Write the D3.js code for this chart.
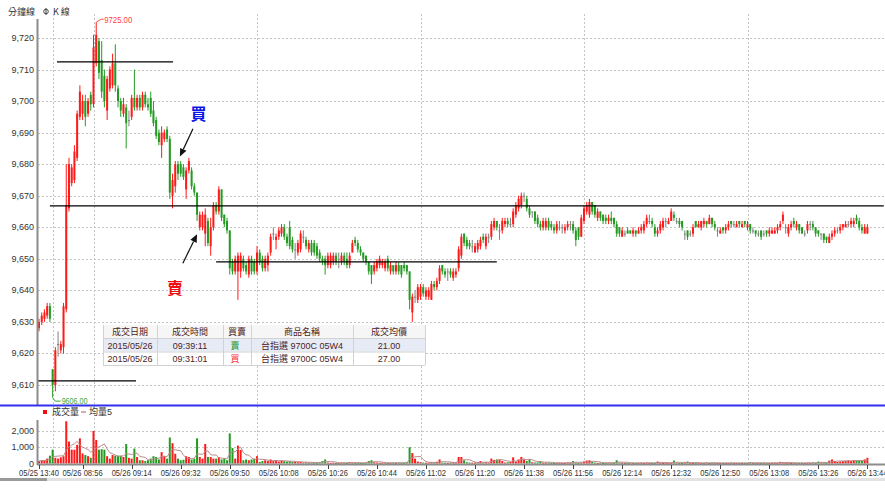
<!DOCTYPE html>
<html><head><meta charset="utf-8">
<script src="https://cdn.jsdelivr.net/npm/d3@7"></script>
<style>
body{margin:0;background:#fff;}
svg{display:block;font-family:"Liberation Sans","Noto Sans CJK TC",Arial,sans-serif;}
</style>
</head><body>
<svg id="chart" width="885" height="488"></svg>
<script>
// ---- DATA ----
// candles: [open, high, low, close], one per minute (05/25 13:40 .. 05/26 13:44)
const candles = [
[9628,9631,9627,9630],[9630,9633,9629,9632],[9631,9634,9630,9633],[9632,9636,9631,9635],[9635,9636,9630,9631],
[9615,9615,9606,9610],[9610,9622,9608,9621],[9623,9627,9619,9623],[9621,9624,9620,9623],[9622,9636,9620,9635],
[9634,9680,9633,9667],[9666,9682,9665,9680],[9674,9680,9673,9679],[9675,9686,9674,9684],[9682,9697,9681,9696],
[9695,9705,9694,9703],[9696,9702,9694,9700],[9700,9702,9692,9695],[9696,9701,9695,9700],[9702,9703,9697,9699],
[9699,9721,9698,9717],[9712,9725,9711,9721],[9719,9720,9707,9709],[9713,9719,9701,9703],[9708,9710,9698,9700],
[9697,9708,9694,9707],[9704,9711,9703,9710],[9705,9715,9704,9712],[9712,9718,9703,9705],[9704,9705,9698,9700],
[9700,9701,9695,9697],[9696,9701,9695,9699],[9698,9699,9685,9693],[9694,9697,9692,9694],[9695,9702,9694,9701],
[9701,9710,9697,9698],[9698,9702,9697,9701],[9701,9702,9697,9698],[9698,9703,9697,9702],[9702,9703,9698,9699],
[9699,9701,9697,9698],[9701,9703,9695,9696],[9697,9700,9692,9693],[9694,9695,9688,9689],[9690,9691,9686,9687],
[9686,9692,9682,9690],[9688,9691,9687,9690],[9691,9692,9687,9688],[9688,9689,9669,9671],[9670,9677,9666,9675],
[9673,9681,9671,9680],[9680,9681,9675,9677],[9680,9681,9676,9677],[9679,9680,9675,9676],[9672,9679,9669,9678],
[9678,9682,9677,9681],[9678,9679,9672,9673],[9673,9674,9670,9671],[9671,9671,9662,9664],[9660,9665,9659,9664],
[9660,9665,9659,9664],[9658,9666,9654,9664],[9662,9663,9654,9655],[9654,9663,9651,9660],[9660,9668,9659,9667],
[9667,9668,9664,9665],[9665,9673,9664,9672],[9672,9672,9662,9663],[9664,9664,9660,9661],[9662,9663,9658,9659],
[9659,9659,9645,9647],[9649,9650,9645,9646],[9646,9651,9645,9650],[9646,9652,9637,9651],[9646,9652,9644,9651],
[9650,9651,9646,9647],[9648,9649,9645,9646],[9645,9651,9644,9650],[9650,9651,9645,9646],[9649,9650,9645,9646],
[9646,9654,9645,9652],[9652,9653,9648,9649],[9650,9651,9646,9647],[9647,9651,9646,9650],[9648,9652,9646,9651],
[9652,9658,9651,9657],[9658,9660,9656,9658],[9656,9658,9653,9657],[9657,9660,9656,9659],[9658,9661,9657,9660],
[9660,9661,9656,9657],[9657,9658,9654,9655],[9660,9662,9653,9654],[9656,9657,9652,9653],[9653,9655,9650,9653],
[9652,9656,9651,9655],[9653,9659,9652,9658],[9657,9659,9655,9657],[9656,9657,9653,9654],[9653,9656,9652,9655],
[9655,9656,9651,9652],[9655,9656,9651,9652],[9654,9655,9650,9651],[9652,9653,9649,9650],[9650,9651,9648,9649],
[9650,9651,9645,9648],[9648,9652,9647,9651],[9648,9652,9647,9651],[9649,9652,9648,9651],[9651,9652,9648,9649],
[9650,9652,9647,9650],[9649,9652,9648,9651],[9651,9652,9648,9649],[9650,9652,9647,9648],[9648,9652,9647,9651],
[9652,9656,9652,9655],[9656,9657,9654,9655],[9655,9656,9652,9653],[9653,9654,9651,9652],[9652,9652,9649,9650],
[9651,9651,9648,9649],[9649,9649,9645,9646],[9648,9648,9642,9645],[9646,9649,9645,9648],[9647,9650,9646,9649],
[9648,9651,9647,9650],[9648,9650,9647,9649],[9647,9650,9646,9649],[9650,9651,9646,9647],[9646,9649,9645,9648],
[9648,9648,9645,9646],[9646,9649,9645,9648],[9648,9649,9645,9646],[9648,9648,9644,9645],[9648,9649,9646,9647],
[9648,9648,9645,9646],[9646,9646,9634,9637],[9633,9639,9630,9638],[9638,9640,9636,9638],[9637,9642,9636,9641],
[9638,9642,9637,9641],[9641,9642,9638,9639],[9638,9641,9637,9640],[9638,9641,9637,9640],[9637,9643,9637,9642],
[9642,9643,9640,9641],[9641,9644,9640,9643],[9643,9648,9642,9647],[9648,9648,9645,9646],[9646,9647,9644,9645],
[9646,9647,9643,9646],[9646,9647,9644,9645],[9644,9647,9643,9646],[9645,9647,9644,9646],[9647,9654,9646,9653],
[9651,9658,9650,9657],[9658,9658,9654,9655],[9656,9657,9653,9654],[9655,9656,9653,9654],[9654,9656,9652,9654],
[9652,9655,9652,9654],[9653,9656,9652,9655],[9654,9657,9653,9656],[9657,9658,9655,9656],[9654,9658,9653,9657],
[9657,9658,9655,9657],[9657,9662,9656,9661],[9660,9663,9659,9662],[9662,9662,9659,9660],[9659,9661,9656,9659],
[9659,9663,9658,9662],[9661,9663,9660,9662],[9662,9663,9660,9661],[9661,9663,9660,9661],[9661,9666,9660,9665],
[9664,9668,9663,9667],[9666,9670,9665,9669],[9667,9671,9666,9670],[9670,9671,9668,9670],[9669,9670,9665,9666],
[9666,9667,9663,9664],[9665,9665,9663,9665],[9665,9665,9661,9662],[9663,9664,9660,9661],[9661,9662,9659,9660],
[9660,9663,9659,9662],[9660,9663,9659,9662],[9662,9663,9659,9660],[9661,9662,9659,9660],[9660,9661,9658,9659],
[9659,9662,9658,9661],[9660,9662,9659,9660],[9660,9661,9658,9660],[9659,9661,9658,9660],[9660,9662,9659,9661],
[9661,9662,9659,9661],[9661,9662,9658,9659],[9659,9660,9654,9656],[9660,9660,9656,9657],[9657,9664,9657,9663],
[9662,9667,9661,9666],[9665,9668,9664,9667],[9664,9669,9663,9668],[9668,9668,9664,9665],[9667,9667,9663,9664],
[9663,9666,9662,9665],[9665,9665,9662,9663],[9664,9664,9661,9662],[9663,9664,9661,9662],[9662,9664,9661,9663],
[9663,9665,9661,9662],[9663,9663,9660,9661],[9661,9662,9657,9658],[9660,9660,9657,9658],[9657,9660,9657,9659],
[9658,9659,9657,9658],[9659,9660,9658,9658],[9659,9659,9658,9658],[9658,9660,9657,9659],[9659,9659,9657,9658],
[9658,9660,9658,9659],[9659,9661,9658,9660],[9659,9662,9658,9661],[9661,9664,9660,9663],[9662,9664,9661,9662],
[9662,9663,9660,9661],[9660,9661,9657,9658],[9658,9660,9657,9659],[9659,9662,9658,9661],[9660,9663,9659,9662],
[9662,9663,9660,9662],[9661,9663,9661,9662],[9662,9666,9662,9665],[9664,9665,9662,9663],[9662,9663,9661,9662],
[9662,9663,9660,9661],[9662,9662,9659,9660],[9658,9659,9656,9658],[9659,9659,9656,9657],[9658,9659,9657,9658],
[9658,9661,9657,9660],[9662,9662,9660,9660],[9660,9662,9660,9661],[9660,9662,9659,9662],[9661,9663,9660,9662],
[9662,9662,9660,9661],[9661,9664,9661,9663],[9663,9663,9660,9661],[9661,9662,9659,9660],[9659,9660,9657,9659],
[9658,9660,9658,9659],[9660,9660,9658,9659],[9659,9661,9658,9660],[9660,9662,9659,9661],[9662,9662,9660,9661],
[9661,9662,9660,9661],[9660,9662,9660,9661],[9662,9662,9660,9661],[9660,9662,9660,9661],[9662,9662,9660,9661],
[9660,9662,9659,9661],[9661,9661,9658,9659],[9659,9660,9658,9659],[9659,9659,9657,9658],[9658,9659,9657,9658],
[9659,9659,9656,9657],[9658,9659,9657,9658],[9659,9659,9657,9658],[9658,9660,9657,9659],[9658,9660,9658,9659],
[9658,9660,9658,9659],[9659,9661,9658,9660],[9660,9662,9659,9661],[9662,9665,9661,9664],[9660,9661,9658,9660],
[9658,9661,9657,9660],[9660,9662,9659,9661],[9662,9663,9660,9661],[9660,9662,9659,9661],[9661,9661,9658,9659],
[9660,9660,9658,9658],[9658,9659,9657,9658],[9659,9662,9658,9661],[9661,9662,9659,9661],[9661,9662,9659,9660],
[9660,9660,9657,9658],[9659,9659,9657,9658],[9658,9658,9656,9658],[9658,9658,9655,9656],[9657,9657,9655,9656],
[9655,9658,9655,9657],[9657,9659,9656,9658],[9658,9660,9657,9659],[9659,9660,9658,9659],[9659,9661,9658,9660],
[9660,9661,9659,9661],[9660,9662,9660,9661],[9661,9662,9660,9661],[9661,9663,9660,9662],[9661,9663,9660,9662],
[9663,9664,9661,9662],[9662,9663,9659,9660],[9660,9661,9658,9659],[9658,9661,9658,9660],[9658,9661,9658,9660]
];
const volumes = [
150,200,200,300,480,850,350,300,380,450,
2600,1350,850,850,1150,1550,620,520,450,350,
2000,1450,850,880,850,450,300,520,480,480,
480,400,1200,350,300,920,400,200,200,150,
200,300,450,400,250,700,450,300,1600,1250,
600,300,200,230,450,400,250,300,1550,400,
300,1200,400,400,300,300,400,250,300,200,
1850,950,300,1100,830,200,250,200,250,300,
450,100,150,200,150,250,150,200,120,180,
150,120,150,100,100,80,100,60,80,50,
60,40,50,80,150,250,60,40,50,30,
40,60,50,30,80,60,40,50,30,40,
60,150,200,80,60,40,50,60,30,40,
50,40,60,50,40,80,1000,640,300,120,
80,60,50,60,80,70,100,250,60,50,
40,60,80,60,400,400,200,80,60,50,
60,70,150,60,80,60,300,220,250,250,
150,60,80,100,380,120,250,400,250,150,
250,80,60,70,150,60,50,60,40,30,
40,50,30,40,60,50,150,70,40,60,
120,180,200,100,60,40,50,30,40,60,
50,40,200,60,50,40,30,50,40,30,
40,50,30,60,40,30,40,120,50,30,
40,50,40,180,60,40,30,50,120,40,
30,40,50,30,40,60,30,40,50,30,
40,30,40,30,50,40,30,40,30,40,
30,80,40,30,40,30,50,40,30,40,
50,40,100,60,40,50,30,40,50,30,
40,30,50,40,60,40,120,60,50,40,
180,250,150,100,120,150,180,200,150,200,
180,200,160,250,350
];
const priceTicks = [9610,9620,9630,9640,9650,9660,9670,9680,9690,9700,9710,9720];
const volumeTicks = [0,1000,2000];
const xTickIndex = [0,16,34,52,70,88,106,124,142,160,178,196,214,232,250,268,286,304];
const xTickLabels = ["05/25 13:40","05/26 08:56","05/26 09:14","05/26 09:32","05/26 09:50","05/26 10:08",
  "05/26 10:26","05/26 10:44","05/26 11:02","05/26 11:20","05/26 11:38","05/26 11:56","05/26 12:14",
  "05/26 12:32","05/26 12:50","05/26 13:08","05/26 13:26","05/26 13:44"];
const gridIndex = [5,20,80,140,200,260];           // day start and full hours
const levelLines = [ // [value, fromIndex, toIndex]
  [9712.4, 6.6, 49.2],
  [9666.8, 4, 310],
  [9649.0, 65, 168],
  [9611.3, -7.7, 35.6]
];
const arrows = [ // [fromIdx, fromVal, toIdx, toVal]
  [56.5, 9691.2, 51.7, 9682.4],
  [52.8, 9648.6, 58.0, 9657.8]
];
const marks = [ // [text, idx, value, color]
  ["買", 58.5, 9695.8, "#0a14e6"],
  ["賣", 49.9, 9640.9, "#ee1010"]
];
const tradeHeaders = ["成交日期","成交時間","買賣","商品名稱","成交均價"];
const trades = [
  ["2015/05/26","09:39:11","賣","台指選 9700C 05W4","21.00"],
  ["2015/05/26","09:31:01","買","台指選 9700C 05W4","27.00"]
];

// ---- DRAW ----
const svg = d3.select("#chart");
const W = 885;
const x = d3.scaleLinear().domain([0, 304]).range([39, 39 + 304 * 2.725]);
const y = d3.scaleLinear().domain([9610, 9720]).range([385, 38]);
const yv = d3.scaleLinear().domain([0, 2000]).range([463.5, 431]);
const RED = "#ff1a1a", GREEN = "#239b23", GRAY = "#808080";
const colorOf = d => d[3] > d[0] ? RED : (d[3] < d[0] ? GREEN : GRAY);
const volColor = d => d[3] < d[0] ? GREEN : RED;

svg.append("rect").attr("width", W).attr("height", 488).attr("fill", "#fff");

const defs = svg.append("defs");
defs.append("clipPath").attr("id", "pclip").append("rect").attr("x", 37).attr("y", 12).attr("width", W - 37).attr("height", 392);

// grids
const grid = svg.append("g");
grid.selectAll("line.h").data(priceTicks).join("line")
  .attr("x1", 38).attr("x2", W).attr("y1", d => Math.round(y(d)) + 0.5).attr("y2", d => Math.round(y(d)) + 0.5)
  .attr("stroke", "#c4c4c4").attr("stroke-dasharray", "2,2");
grid.selectAll("line.vh").data(volumeTicks.filter(d => d > 0)).join("line")
  .attr("x1", 38).attr("x2", W).attr("y1", d => Math.round(yv(d)) + 0.5).attr("y2", d => Math.round(yv(d)) + 0.5)
  .attr("stroke", "#c4c4c4").attr("stroke-dasharray", "2,2");
grid.selectAll("line.v").data(gridIndex).join("line")
  .attr("x1", d => Math.round(x(d)) + 0.5).attr("x2", d => Math.round(x(d)) + 0.5)
  .attr("y1", 14).attr("y2", 463)
  .attr("stroke", "#c4c4c4").attr("stroke-dasharray", "2,2");

// candles
const pg = svg.append("g").attr("clip-path", "url(#pclip)");
const cg = pg.selectAll("g.c").data(candles).join("g");
cg.append("line")
  .attr("x1", (d, i) => x(i)).attr("x2", (d, i) => x(i))
  .attr("y1", d => y(d[1])).attr("y2", d => y(d[2]))
  .attr("stroke", colorOf).attr("stroke-width", 1);
cg.append("rect")
  .attr("x", (d, i) => x(i) - 1).attr("width", 2)
  .attr("y", d => y(Math.max(d[0], d[3])))
  .attr("height", d => Math.max(1, Math.abs(y(d[0]) - y(d[3]))))
  .attr("fill", colorOf);

// annotation level lines
pg.selectAll("line.lv").data(levelLines).join("line")
  .attr("x1", d => x(d[1])).attr("x2", d => x(d[2]))
  .attr("y1", d => y(d[0])).attr("y2", d => y(d[0]))
  .attr("stroke", "#000").attr("stroke-width", 1.2);

// arrows
arrows.forEach(a => {
  const x1 = x(a[0]), y1 = y(a[1]), x2 = x(a[2]), y2 = y(a[3]);
  const ang = Math.atan2(y2 - y1, x2 - x1);
  const L = 8, Wd = 3.5;
  const bx = x2 - L * Math.cos(ang), by = y2 - L * Math.sin(ang);
  svg.append("line").attr("x1", x1).attr("y1", y1).attr("x2", bx).attr("y2", by)
    .attr("stroke", "#111").attr("stroke-width", 1.2);
  svg.append("polygon").attr("fill", "#111").attr("points", [
    [x2, y2],
    [bx + Wd * Math.sin(ang), by - Wd * Math.cos(ang)],
    [bx - Wd * Math.sin(ang), by + Wd * Math.cos(ang)]
  ].map(p => p.join(",")).join(" "));
});
marks.forEach(m => {
  svg.append("text").attr("x", x(m[1])).attr("y", y(m[2]) + 6).attr("text-anchor", "middle")
    .attr("font-family", "Noto Sans CJK TC").attr("font-weight", "bold").attr("font-size", 16)
    .attr("fill", m[3]).text(m[0]);
});

// high / low labels
const hiIdx = d3.maxIndex(candles, d => d[1]);
const loIdx = d3.minIndex(candles, d => d[2]);
const hx = x(hiIdx), hy = y(candles[hiIdx][1]);
svg.append("polyline").attr("points", `${hx},${hy} ${hx + 5},${hy - 3} ${hx + 7.5},${hy - 3}`)
  .attr("fill", "none").attr("stroke", "#ff5050").attr("stroke-width", 1);
svg.append("text").attr("x", hx + 8).attr("y", hy + 0.5).attr("font-size", 9).attr("fill", "#ff4040")
  .attr("textLength", 28).attr("lengthAdjust", "spacingAndGlyphs").text(candles[hiIdx][1].toFixed(2));
const lx = x(loIdx), ly = y(candles[loIdx][2]);
svg.append("polyline").attr("points", `${lx},${ly} ${lx + 2.5},${ly + 3.5} ${lx + 8},${ly + 3.5}`)
  .attr("fill", "none").attr("stroke", "#3aa83a").attr("stroke-width", 1);
svg.append("text").attr("x", lx + 9).attr("y", ly + 6.5).attr("font-size", 9).attr("fill", "#3aa83a")
  .attr("textLength", 26).attr("lengthAdjust", "spacingAndGlyphs").text(candles[loIdx][2].toFixed(2));

// price axis
svg.append("line").attr("x1", 37.5).attr("x2", 37.5).attr("y1", 19).attr("y2", 405)
  .attr("stroke", "#8c8c8c").attr("stroke-width", 2);
svg.selectAll("text.py").data(priceTicks).join("text")
  .attr("x", 34).attr("y", d => y(d) + 3).attr("text-anchor", "end")
  .attr("font-size", 9).attr("fill", "#333").text(d3.format(",")) ;

// header
svg.append("text").attr("x", 8).attr("y", 15).attr("font-size", 9).attr("fill", "#333")
  .attr("font-family", "Noto Sans CJK TC").text("分鐘線");
const ic = svg.append("g").attr("stroke", "#444").attr("fill", "none");
ic.append("circle").attr("cx", 46).attr("cy", 11.5).attr("r", 2.3);
ic.append("line").attr("x1", 46).attr("x2", 46).attr("y1", 8).attr("y2", 15);
svg.append("text").attr("x", 53).attr("y", 15).attr("font-size", 9).attr("fill", "#333")
  .attr("font-family", "Noto Sans CJK TC").text("K 線");

// table
const cols = [103, 157, 223, 251, 353, 425];
const rowsY = [325, 338, 351.5, 365];
const tg = svg.append("g");
tg.append("rect").attr("x", cols[0]).attr("y", rowsY[0]).attr("width", cols[5] - cols[0]).attr("height", rowsY[3] - rowsY[0])
  .attr("fill", "#fff");
tg.append("rect").attr("x", cols[0]).attr("y", rowsY[0]).attr("width", cols[5] - cols[0]).attr("height", rowsY[1] - rowsY[0])
  .attr("fill", "#f6f6f6");
tg.append("rect").attr("x", cols[0]).attr("y", rowsY[1]).attr("width", cols[5] - cols[0]).attr("height", rowsY[2] - rowsY[1])
  .attr("fill", "#e6ebf6");
cols.forEach(c => tg.append("line").attr("x1", c + 0.5).attr("x2", c + 0.5).attr("y1", rowsY[0]).attr("y2", rowsY[3]).attr("stroke", "#d2d2d2"));
rowsY.slice(1).forEach(r => tg.append("line").attr("x1", cols[0]).attr("x2", cols[5]).attr("y1", r + 0.5).attr("y2", r + 0.5).attr("stroke", "#d2d2d2"));
const centers = cols.slice(0, 5).map((c, i) => (c + cols[i + 1]) / 2);
tradeHeaders.forEach((h, i) => tg.append("text").attr("x", centers[i]).attr("y", rowsY[0] + 9.5).attr("text-anchor", "middle")
  .attr("font-size", 9).attr("fill", "#4d2424").text(h));
trades.forEach((row, r) => row.forEach((v, i) => {
  let fill = "#4d2424";
  if (i === 2) fill = v === "買" ? "#ff3030" : "#2a9a2a";
  tg.append("text").attr("x", centers[i] - (i === 2 ? 2 : 0)).attr("y", rowsY[r + 1] + 10.5).attr("text-anchor", "middle")
    .attr("font-size", 9).attr("fill", fill).text(v);
}));

// separator
svg.append("line").attr("x1", 0).attr("x2", W).attr("y1", 405.5).attr("y2", 405.5)
  .attr("stroke", "#3030ee").attr("stroke-width", 2);

// volume legend
svg.append("rect").attr("x", 43).attr("y", 410).attr("width", 4).attr("height", 4).attr("fill", "#ee1010");
svg.append("text").attr("x", 52).attr("y", 415).attr("font-size", 9).attr("fill", "#333").text("成交量");
svg.append("line").attr("x1", 81).attr("x2", 86).attr("y1", 412).attr("y2", 412).attr("stroke", "#a06060");
svg.append("text").attr("x", 89).attr("y", 415).attr("font-size", 9).attr("fill", "#333").text("均量5");

// volume bars
svg.append("g").selectAll("rect").data(candles).join("rect")
  .attr("x", (d, i) => x(i) - 1).attr("width", 2)
  .attr("y", (d, i) => yv(volumes[i]))
  .attr("height", (d, i) => Math.max(1, yv(0) - yv(volumes[i])))
  .attr("fill", volColor);
// 5-period average volume
const ma5 = volumes.map((v, i) => d3.mean(volumes.slice(Math.max(0, i - 4), i + 1)));
svg.append("path").datum(ma5)
  .attr("d", d3.line().x((d, i) => x(i)).y(d => yv(d)))
  .attr("fill", "none").attr("stroke", "#b98a8a").attr("stroke-width", 1);

// volume axis
svg.append("line").attr("x1", 37.5).attr("x2", 37.5).attr("y1", 420).attr("y2", 465)
  .attr("stroke", "#8c8c8c").attr("stroke-width", 2);
svg.selectAll("text.vy").data(volumeTicks).join("text")
  .attr("x", 34).attr("y", d => yv(d) + 3).attr("text-anchor", "end")
  .attr("font-size", 9).attr("fill", "#333").text(d3.format(","));

// x axis
svg.append("line").attr("x1", 37).attr("x2", W).attr("y1", 464.5).attr("y2", 464.5)
  .attr("stroke", "#8c8c8c").attr("stroke-width", 2);
svg.selectAll("line.xt").data(xTickIndex).join("line")
  .attr("x1", d => Math.round(x(d)) + 0.5).attr("x2", d => Math.round(x(d)) + 0.5)
  .attr("y1", 465).attr("y2", 469).attr("stroke", "#444");
svg.selectAll("text.xl").data(xTickIndex).join("text")
  .attr("x", d => x(d) - 20).attr("y", 476)
  .attr("font-size", 9).attr("fill", "#333")
  .attr("textLength", 40).attr("lengthAdjust", "spacingAndGlyphs")
  .text((d, i) => xTickLabels[i]);

// scrollbar strip
svg.append("rect").attr("x", 0).attr("y", 478).attr("width", W).attr("height", 3).attr("fill", "#e2e2e2");
svg.append("rect").attr("x", 0).attr("y", 478).attr("width", 47).attr("height", 3).attr("fill", "#9a9a9a");
</script>
</body></html>
